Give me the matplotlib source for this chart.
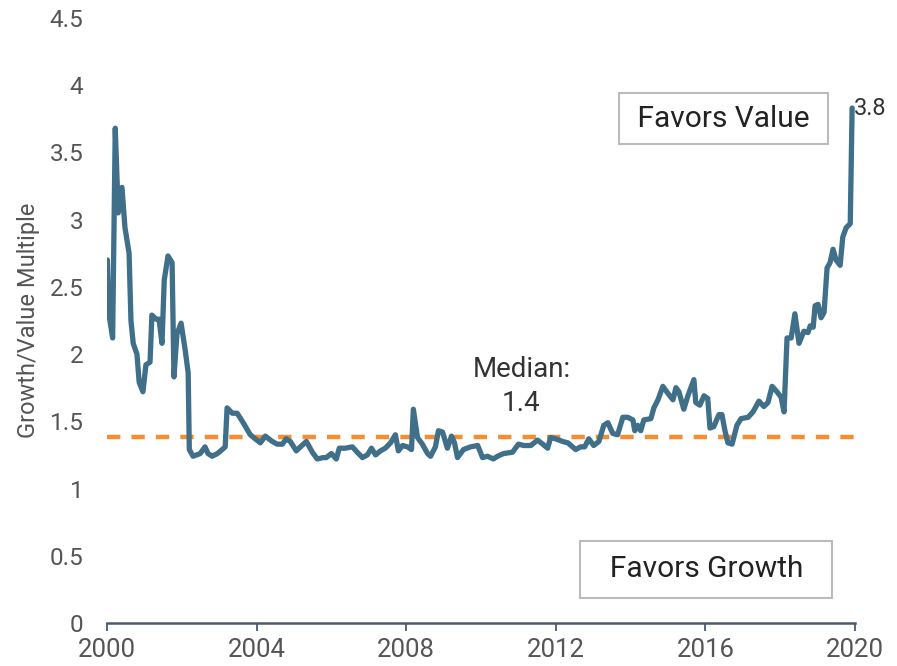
import matplotlib.pyplot as plt

# Growth/Value multiple (decimal years)
years = [
    2000.01, 2000.05, 2000.15, 2000.22, 2000.30, 2000.40, 2000.48, 2000.59, 2000.64, 2000.70,
    2000.80, 2000.86, 2000.96, 2001.04, 2001.15, 2001.20, 2001.31, 2001.39, 2001.47, 2001.53,
    2001.63, 2001.74, 2001.79, 2001.87, 2001.98, 2002.09, 2002.17, 2002.20, 2002.30, 2002.49,
    2002.62, 2002.70, 2002.81, 2002.95, 2003.08, 2003.16, 2003.21, 2003.35, 2003.48, 2003.64,
    2003.83, 2003.96, 2004.10, 2004.23, 2004.42, 2004.55, 2004.69, 2004.79, 2004.90, 2005.06,
    2005.17, 2005.33, 2005.49, 2005.62, 2005.78, 2005.86, 2006.00, 2006.13, 2006.21, 2006.37,
    2006.56, 2006.69, 2006.83, 2006.96, 2007.07, 2007.18, 2007.31, 2007.44, 2007.58, 2007.71,
    2007.79, 2007.90, 2008.03, 2008.14, 2008.19, 2008.30, 2008.43, 2008.57, 2008.65, 2008.78,
    2008.86, 2008.97, 2009.10, 2009.21, 2009.29, 2009.37, 2009.53, 2009.72, 2009.91, 2010.04,
    2010.17, 2010.33, 2010.44, 2010.60, 2010.84, 2011.00, 2011.14, 2011.33, 2011.51, 2011.65,
    2011.78, 2011.86, 2011.99, 2012.18, 2012.32, 2012.53, 2012.66, 2012.77, 2012.88, 2013.01,
    2013.15, 2013.28, 2013.39, 2013.52, 2013.65, 2013.79, 2013.92, 2014.06, 2014.11, 2014.19,
    2014.27, 2014.35, 2014.54, 2014.62, 2014.73, 2014.86, 2014.99, 2015.13, 2015.21, 2015.29,
    2015.42, 2015.53, 2015.69, 2015.74, 2015.85, 2015.96, 2016.06, 2016.12, 2016.22, 2016.36,
    2016.44, 2016.52, 2016.60, 2016.71, 2016.84, 2016.95, 2017.14, 2017.27, 2017.43, 2017.56,
    2017.67, 2017.78, 2017.91, 2018.02, 2018.10, 2018.18, 2018.29, 2018.39, 2018.50, 2018.63,
    2018.74, 2018.80, 2018.88, 2018.93, 2019.01, 2019.09, 2019.17, 2019.25, 2019.33, 2019.41,
    2019.49, 2019.60, 2019.67, 2019.76, 2019.87, 2019.92,
]
multiple = [
    2.70, 2.30, 2.12, 3.68, 3.05, 3.24, 2.94, 2.75, 2.25, 2.08,
    2.00, 1.79, 1.72, 1.92, 1.94, 2.29, 2.26, 2.26, 2.08, 2.55,
    2.73, 2.68, 1.83, 2.15, 2.23, 2.03, 1.86, 1.29, 1.24, 1.26,
    1.31, 1.26, 1.24, 1.26, 1.29, 1.31, 1.60, 1.56, 1.56, 1.49,
    1.40, 1.37, 1.34, 1.39, 1.35, 1.33, 1.33, 1.37, 1.35, 1.28,
    1.31, 1.35, 1.27, 1.22, 1.23, 1.23, 1.26, 1.22, 1.30, 1.30,
    1.31, 1.27, 1.23, 1.25, 1.30, 1.25, 1.28, 1.30, 1.34, 1.40,
    1.28, 1.32, 1.31, 1.29, 1.59, 1.38, 1.33, 1.26, 1.24, 1.31,
    1.43, 1.42, 1.30, 1.39, 1.34, 1.23, 1.29, 1.31, 1.32, 1.23,
    1.24, 1.22, 1.24, 1.26, 1.27, 1.33, 1.32, 1.32, 1.36, 1.33,
    1.30, 1.38, 1.37, 1.35, 1.34, 1.29, 1.31, 1.31, 1.37, 1.32,
    1.35, 1.47, 1.49, 1.41, 1.40, 1.53, 1.53, 1.51, 1.43, 1.47,
    1.43, 1.51, 1.52, 1.60, 1.66, 1.76, 1.71, 1.66, 1.75, 1.72,
    1.59, 1.69, 1.81, 1.64, 1.62, 1.69, 1.67, 1.45, 1.46, 1.55,
    1.55, 1.43, 1.34, 1.33, 1.47, 1.52, 1.53, 1.57, 1.65, 1.61,
    1.64, 1.76, 1.72, 1.68, 1.57, 2.12, 2.12, 2.30, 2.08, 2.17,
    2.16, 2.21, 2.20, 2.36, 2.37, 2.27, 2.31, 2.64, 2.68, 2.78,
    2.70, 2.66, 2.87, 2.94, 2.97, 3.83,
]
median_value = 1.38
x_ticks = [2000, 2004, 2008, 2012, 2016, 2020]
y_ticks = [0, 0.5, 1, 1.5, 2, 2.5, 3, 3.5, 4, 4.5]
y_tick_labels = ["0", "0.5", "1", "1.5", "2", "2.5", "3", "3.5", "4", "4.5"]

plt.rcParams['font.family'] = ['Roboto', 'DejaVu Sans']

fig = plt.figure(figsize=(8.97, 6.66), dpi=100)
ax = fig.add_axes([0.1193, 0.0646, 0.834, 0.9084])

# Median line and series
ax.plot([2000, 2020], [median_value, median_value], color='#F68D2E',
        linestyle=(0, (3.0, 2.5)), linewidth=3.2)
ax.plot(years, multiple, color='#3F6F89', linewidth=3.8,
        solid_joinstyle='round', solid_capstyle='round')

# Annotations
ax.text(2011.08, 1.76, "Median:\n1.4", ha='center', va='center',
        fontsize=20, color='#333333', linespacing=1.3)
ax.text(2019.98, 3.83, "3.8", ha='left', va='center', fontsize=17, color='#333333')

ax.text(2016.48, 3.75, " Favors Value ", ha='center', va='center',
        fontsize=21.5, color='#222222',
        bbox=dict(boxstyle='square,pad=0.38', facecolor='white',
                  edgecolor='#BBBBBB', linewidth=1.5))
ax.text(2016.02, 0.40, "  Favors Growth  ", ha='center', va='center',
        fontsize=21.5, color='#222222',
        bbox=dict(boxstyle='square,pad=0.48', facecolor='white',
                  edgecolor='#BBBBBB', linewidth=1.5))

# Axes style
ax.set_xlim(2000, 2020)
ax.set_ylim(0, 4.5)
ax.set_xticks(x_ticks)
ax.set_yticks(y_ticks)
ax.set_yticklabels(y_tick_labels)
for side in ['top', 'right', 'left']:
    ax.spines[side].set_visible(False)
ax.spines['bottom'].set_color('#4A5A6E')
ax.spines['bottom'].set_linewidth(1.8)
ax.tick_params(axis='x', colors='#4A5A6E', length=6, width=1.3, labelsize=18.5,
               labelcolor='#555555', pad=5)
ax.tick_params(axis='y', length=0, labelsize=17.5, labelcolor='#555555', pad=17)
ax.set_ylabel("Growth/Value Multiple", fontsize=17, color='#555555')
ax.yaxis.set_label_coords(-0.09, 0.5)

plt.savefig("out.png", dpi=100)
plt.close()
